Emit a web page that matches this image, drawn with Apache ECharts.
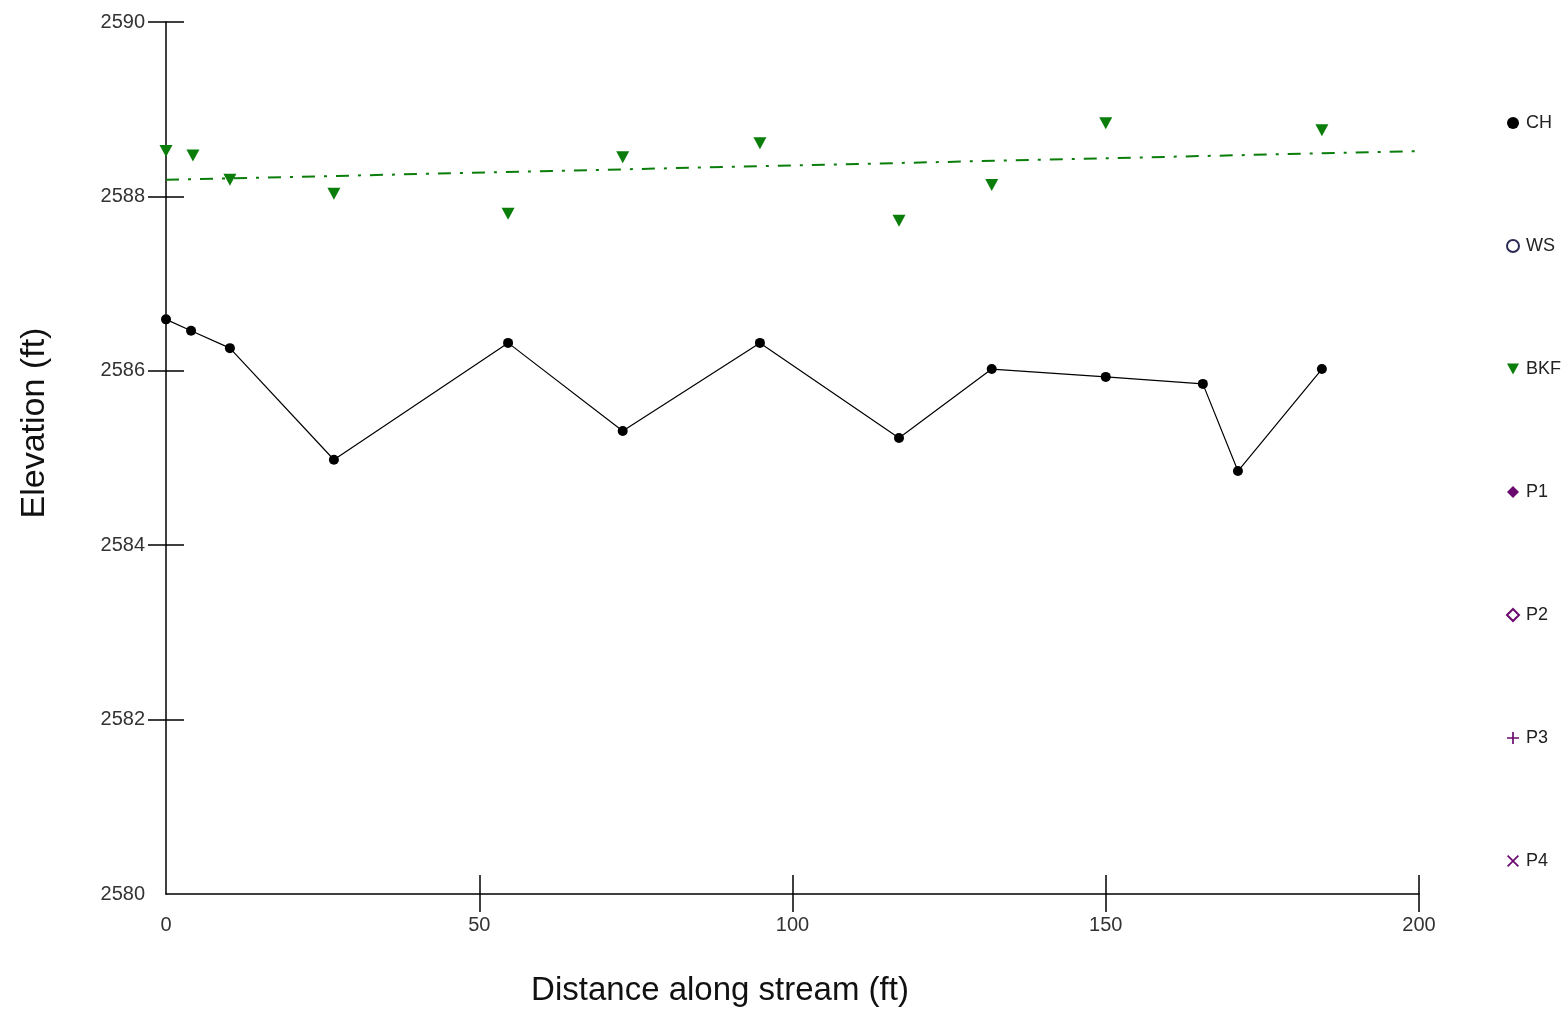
<!DOCTYPE html>
<html>
<head>
<meta charset="utf-8">
<script src="https://cdn.jsdelivr.net/npm/echarts@6/dist/echarts.min.js"></script>
<style>html,body{margin:0;padding:0;background:#fff;}#c{width:1568px;height:1011px;}</style>
</head>
<body>
<div id="c"></div>
<script>
const chDist = [0, 4, 10.2, 26.8, 54.6, 72.9, 94.8, 117.0, 131.8, 150.0, 165.5, 171.1, 184.5];
const chElev = [2586.59, 2586.46, 2586.26, 2584.98, 2586.32, 2585.31, 2586.32, 2585.23, 2586.02, 2585.93, 2585.85, 2584.85, 2586.02];
const bkfDist = [0, 4.3, 10.2, 26.8, 54.6, 72.9, 94.8, 117.0, 131.8, 150.0, 184.5];
const bkfElev = [2588.52, 2588.47, 2588.19, 2588.03, 2587.80, 2588.45, 2588.61, 2587.72, 2588.13, 2588.84, 2588.76];
const trendDist = [0, 200];
const trendElev = [2588.19, 2588.52];
const legendNames = ['CH', 'WS', 'BKF', 'P1', 'P2', 'P3', 'P4'];
const xTitle = 'Distance along stream (ft)';
const yTitle = 'Elevation (ft)';

const pair = (xs, ys) => xs.map((x, i) => [x, ys[i]]);
const font = 'Liberation Sans, Arial, sans-serif';
const purple = '#6a0a6e';
const green = '#0a7d0a';
const triDown = 'path://M0,0 L10,0 L5,9 Z';
const plusPath = 'path://M4.3,0 L5.7,0 L5.7,4.3 L10,4.3 L10,5.7 L5.7,5.7 L5.7,10 L4.3,10 L4.3,5.7 L0,5.7 L0,4.3 L4.3,4.3 Z';
const xPath = 'path://M1,0 L5,4 L9,0 L10,1 L6,5 L10,9 L9,10 L5,6 L1,10 L0,9 L4,5 L0,1 Z';

const chart = echarts.init(document.getElementById('c'), null, {renderer: 'canvas'});
const gridBox = {left: 166, top: 22, right: 149, bottom: 117};
const tickStyle = {color: '#000', width: 1.5};
chart.setOption({
  animation: false,
  backgroundColor: '#fff',
  grid: [Object.assign({}, gridBox), Object.assign({}, gridBox)],
  xAxis: [{
    type: 'value', gridIndex: 0, min: 0, max: 200, interval: 50,
    axisLine: {show: true, lineStyle: {color: '#000', width: 1.5}},
    axisTick: {show: true, inside: false, length: 18, customValues: [50, 100, 150, 200], lineStyle: tickStyle},
    axisLabel: {margin: 21, color: '#333', fontSize: 20, fontFamily: font},
    splitLine: {show: false}
  }, {
    type: 'value', gridIndex: 1, min: 0, max: 200, interval: 50,
    axisLine: {show: false},
    axisTick: {show: true, inside: true, length: 19, customValues: [50, 100, 150, 200], lineStyle: tickStyle},
    axisLabel: {show: false},
    splitLine: {show: false}
  }],
  yAxis: [{
    type: 'value', gridIndex: 0, min: 2580, max: 2590, interval: 2,
    axisLine: {show: true, lineStyle: {color: '#000', width: 1.5}},
    axisTick: {show: true, inside: false, length: 18, customValues: [2582, 2584, 2586, 2588, 2590], lineStyle: tickStyle},
    axisLabel: {margin: 21, color: '#333', fontSize: 20, fontFamily: font, formatter: v => String(v)},
    splitLine: {show: false}
  }, {
    type: 'value', gridIndex: 1, min: 2580, max: 2590, interval: 2,
    axisLine: {show: false},
    axisTick: {show: true, inside: true, length: 18, customValues: [2582, 2584, 2586, 2588, 2590], lineStyle: tickStyle},
    axisLabel: {show: false},
    splitLine: {show: false}
  }],
  legend: {
    orient: 'vertical', left: 1501, top: 109, itemGap: 105, itemWidth: 12, itemHeight: 12,
    selectedMode: false,
    textStyle: {color: '#222', fontSize: 18, fontFamily: font, padding: [0, 0, 0, 2]},
    data: [
      {name: legendNames[0], icon: 'circle', itemStyle: {color: '#000', opacity: 1}},
      {name: legendNames[1], icon: 'emptyCircle'},
      {name: legendNames[2], icon: triDown},
      {name: legendNames[3], icon: 'diamond'},
      {name: legendNames[4], icon: 'emptyDiamond'},
      {name: legendNames[5], icon: plusPath},
      {name: legendNames[6], icon: xPath}
    ]
  },
  graphic: [
    {type: 'text', x: 720, y: 991, style: {text: xTitle, font: '33px ' + font, fill: '#111', align: 'center', verticalAlign: 'middle'}},
    {type: 'text', rotation: Math.PI / 2, x: 35, y: 423, style: {text: yTitle, font: '34px ' + font, fill: '#111', align: 'center', verticalAlign: 'middle'}}
  ],
  series: [
    {
      name: legendNames[0], type: 'line', xAxisIndex: 0, yAxisIndex: 0,
      data: pair(chDist, chElev),
      symbol: 'circle', symbolSize: 10,
      itemStyle: {color: '#000', opacity: 1},
      lineStyle: {color: '#000', width: 1.2}, z: 5
    },
    {name: legendNames[1], type: 'scatter', data: [], symbol: 'emptyCircle', itemStyle: {color: '#2b2b55', borderColor: '#2b2b55', opacity: 1}},
    {
      name: legendNames[2], type: 'scatter', xAxisIndex: 0, yAxisIndex: 0,
      data: pair(bkfDist, bkfElev),
      symbol: triDown, symbolSize: [13, 12],
      itemStyle: {color: green, opacity: 1}, z: 6
    },
    {name: legendNames[3], type: 'scatter', data: [], symbol: 'diamond', itemStyle: {color: purple, opacity: 1}},
    {name: legendNames[4], type: 'scatter', data: [], symbol: 'emptyDiamond', itemStyle: {color: purple, borderColor: purple, opacity: 1}},
    {name: legendNames[5], type: 'scatter', data: [], symbol: plusPath, itemStyle: {color: purple, opacity: 1}},
    {name: legendNames[6], type: 'scatter', data: [], symbol: xPath, itemStyle: {color: purple, opacity: 1}},
    {
      name: 'BKF trend', type: 'line', xAxisIndex: 0, yAxisIndex: 0,
      data: pair(trendDist, trendElev),
      symbol: 'none',
      lineStyle: {color: green, width: 2, type: [13, 9, 3, 9]}, z: 4
    }
  ]
});
</script>
</body>
</html>
